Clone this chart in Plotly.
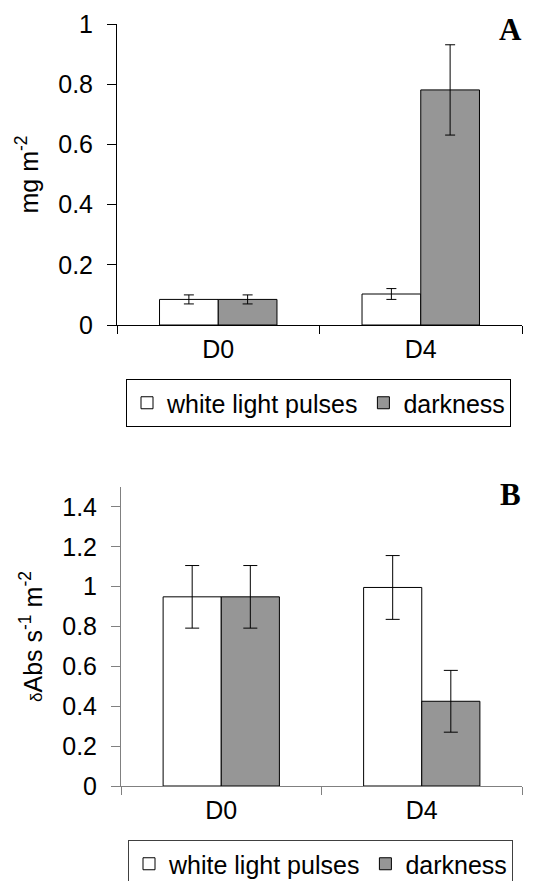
import plotly.graph_objects as go

W, H = 541, 881

categories = ["D0", "D4"]
series_names = ["white light pulses", "darkness"]

# Panel A (mg m-2)
a_white = [0.085, 0.103]
a_white_err = [0.015, 0.018]
a_dark = [0.085, 0.781]
a_dark_err = [0.015, 0.150]

# Panel B (dAbs s-1 m-2)
b_white = [0.949, 0.996]
b_white_err = [0.157, 0.160]
b_dark = [0.949, 0.425]
b_dark_err = [0.157, 0.155]

a_ticks = [0, 0.2, 0.4, 0.6, 0.8, 1.0]
a_ticklabels = ["0", "0.2", "0.4", "0.6", "0.8", "1"]
b_ticks = [0, 0.2, 0.4, 0.6, 0.8, 1.0, 1.2, 1.4]
b_ticklabels = ["0", "0.2", "0.4", "0.6", "0.8", "1", "1.2", "1.4"]

fills = ["#ffffff", "#969696"]
FONT = "Liberation Sans, Arial, sans-serif"


def px_x(p):
    return p / W


def px_y(p):
    return 1 - p / H


fig = go.Figure()

panel_a = [(a_white, a_white_err), (a_dark, a_dark_err)]
panel_b = [(b_white, b_white_err), (b_dark, b_dark_err)]

for i, (vals, errs) in enumerate(panel_a):
    fig.add_trace(go.Bar(
        x=categories, y=vals, name=series_names[i],
        marker=dict(color=fills[i], line=dict(color="black", width=1)),
        error_y=dict(type="data", array=errs, visible=True, color="black",
                     thickness=1, width=5),
        xaxis="x", yaxis="y", legend="legend",
    ))

for i, (vals, errs) in enumerate(panel_b):
    fig.add_trace(go.Bar(
        x=categories, y=vals, name=series_names[i],
        marker=dict(color=fills[i], line=dict(color="black", width=1)),
        error_y=dict(type="data", array=errs, visible=True, color="black",
                     thickness=1, width=7),
        xaxis="x2", yaxis="y2", legend="legend2",
    ))

common_x = dict(type="category", range=[-0.5, 1.5], tickson="boundaries",
                ticks="outside", ticklen=8, showgrid=False, zeroline=False,
                showline=True, linewidth=1, ticklabelstandoff=2,
                tickfont=dict(family=FONT, size=25, color="black"))
common_y = dict(ticks="outside", ticklen=9, showgrid=False, zeroline=False,
                showline=True, linewidth=1, ticklabelstandoff=9,
                tickfont=dict(family=FONT, size=25, color="black"))

fig.update_layout(
    width=W, height=H,
    margin=dict(l=0, r=0, t=0, b=0, autoexpand=False),
    paper_bgcolor="white", plot_bgcolor="white",
    barmode="group", bargap=0.42, bargroupgap=0,
    font=dict(family=FONT, size=25, color="black"),
    xaxis=dict(domain=[px_x(117), px_x(522)], anchor="y",
               linecolor="black", tickcolor="black", **common_x),
    yaxis=dict(domain=[px_y(325), px_y(24)], anchor="x", range=[0, 1],
               tickvals=a_ticks, ticktext=a_ticklabels,
               linecolor="black", tickcolor="black",
               title=dict(text="mg m<sup>-2</sup>", standoff=12,
                          font=dict(family=FONT, size=25, color="black")),
               **common_y),
    xaxis2=dict(domain=[px_x(121), px_x(522)], anchor="y2",
                linecolor="#808080", tickcolor="#808080", **common_x),
    yaxis2=dict(domain=[px_y(786), px_y(487)], anchor="x2", range=[0, 1.5],
                tickvals=b_ticks, ticktext=b_ticklabels,
                linecolor="#808080", tickcolor="#808080",
                title=dict(text="<span style='font-size:17px'>δ</span>Abs s<sup>-1</sup> m<sup>-2</sup>",
                           standoff=12,
                           font=dict(family=FONT, size=25, color="black")),
                **common_y),
    legend=dict(orientation="h", x=px_x(126), xanchor="left",
                y=px_y(379), yanchor="top",
                bordercolor="black", borderwidth=1, bgcolor="white",
                font=dict(family=FONT, size=25, color="black")),
    legend2=dict(orientation="h", x=px_x(128), xanchor="left",
                 y=px_y(840), yanchor="top",
                 bordercolor="#404040", borderwidth=1, bgcolor="white",
                 font=dict(family=FONT, size=25, color="black")),
    annotations=[
        dict(text="<b>A</b>", x=px_x(510), y=px_y(30), xref="paper", yref="paper",
             showarrow=False, xanchor="center", yanchor="middle",
             font=dict(family="Liberation Serif, Times New Roman, serif", size=31, color="black")),
        dict(text="<b>B</b>", x=px_x(510), y=px_y(495), xref="paper", yref="paper",
             showarrow=False, xanchor="center", yanchor="middle",
             font=dict(family="Liberation Serif, Times New Roman, serif", size=31, color="black")),
    ],
)

fig.write_html("out.html")
